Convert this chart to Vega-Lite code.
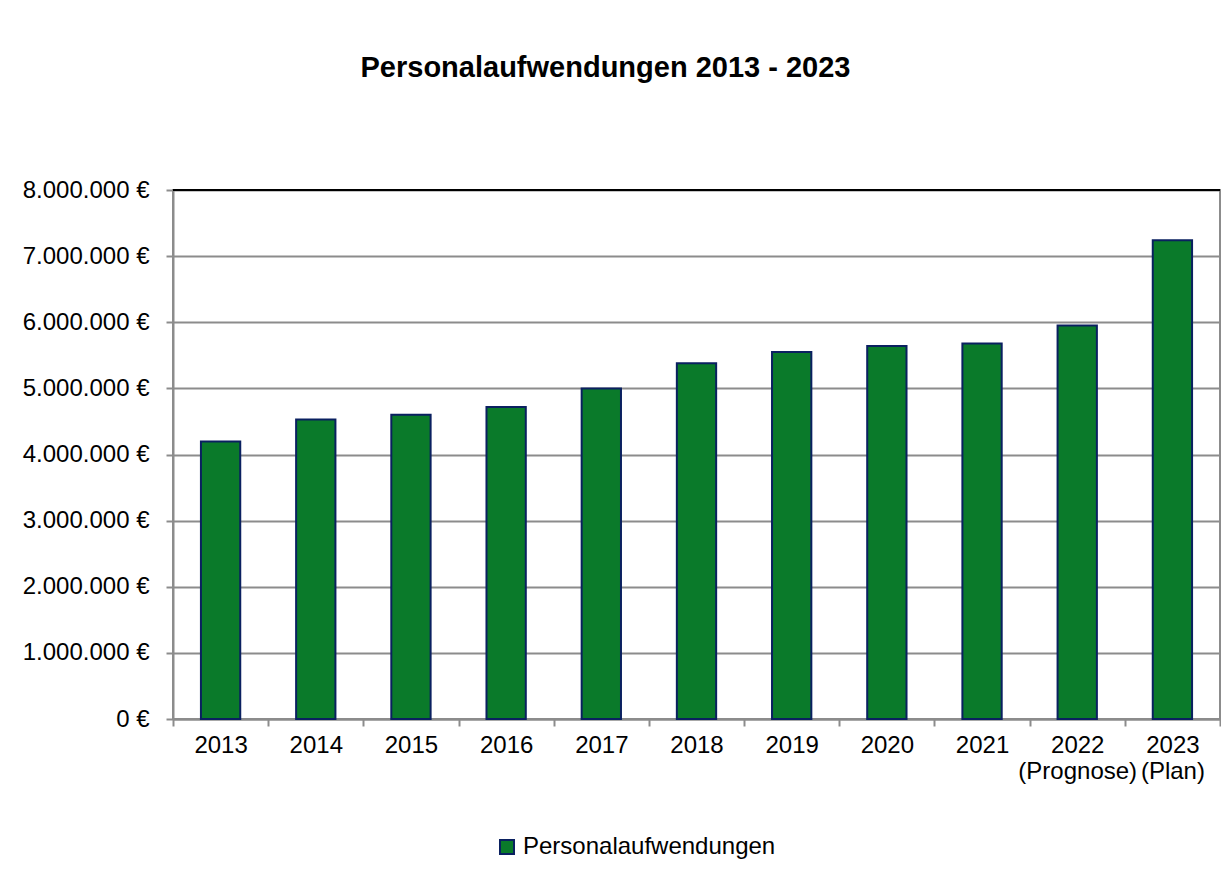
{
  "$schema": "https://vega.github.io/schema/vega-lite/v6.json",
  "width": 1047,
  "height": 529,
  "autosize": "none",
  "padding": {"left": 173, "top": 190, "right": 1, "bottom": 176},
  "background": "white",
  "title": {
    "text": "Personalaufwendungen 2013 - 2023",
    "font": "Liberation Sans",
    "fontSize": 29,
    "fontWeight": "bold",
    "color": "#000000",
    "anchor": "middle",
    "frame": "group",
    "dx": -91,
    "baseline": "alphabetic",
    "offset": 72
  },
  "config": {
    "font": "Liberation Sans",
    "locale": {"number": {"decimal": ",", "thousands": ".", "grouping": [3], "currency": ["", " €"]}},
    "view": {"stroke": "#8c8c8c", "strokeWidth": 2}
  },
  "data": {
    "values": [
      {"jahr": "2013", "wert": 4195000, "reihe": "Personalaufwendungen"},
      {"jahr": "2014", "wert": 4530000, "reihe": "Personalaufwendungen"},
      {"jahr": "2015", "wert": 4600000, "reihe": "Personalaufwendungen"},
      {"jahr": "2016", "wert": 4720000, "reihe": "Personalaufwendungen"},
      {"jahr": "2017", "wert": 5000000, "reihe": "Personalaufwendungen"},
      {"jahr": "2018", "wert": 5380000, "reihe": "Personalaufwendungen"},
      {"jahr": "2019", "wert": 5550000, "reihe": "Personalaufwendungen"},
      {"jahr": "2020", "wert": 5640000, "reihe": "Personalaufwendungen"},
      {"jahr": "2021", "wert": 5680000, "reihe": "Personalaufwendungen"},
      {"jahr": "2022 (Prognose)", "wert": 5950000, "reihe": "Personalaufwendungen"},
      {"jahr": "2023 (Plan)", "wert": 7240000, "reihe": "Personalaufwendungen"}
    ]
  },
  "layer": [
    {
      "mark": {"type": "bar", "stroke": "#0a2060", "strokeWidth": 2, "width": {"band": 0.413}},
      "encoding": {
        "x": {
          "field": "jahr",
          "type": "ordinal",
          "sort": null,
          "scale": {"paddingInner": 0, "paddingOuter": 0},
          "axis": {
            "title": null,
            "labelAngle": 0,
            "labelExpr": "isString(datum.value) ? split(datum.value, ' ') : ''",
            "labelFontSize": 24,
            "labelColor": "#000000",
            "labelPadding": 7,
            "labelLineHeight": 26,
            "tickBand": "extent",
            "tickSize": 7,
            "tickColor": "#8c8c8c",
            "tickWidth": 2,
            "domainColor": "#8c8c8c",
            "domainWidth": 2
          }
        },
        "y": {
          "field": "wert",
          "type": "quantitative",
          "scale": {"domain": [0, 8000000], "nice": false},
          "axis": {
            "title": null,
            "values": [0, 1000000, 2000000, 3000000, 4000000, 5000000, 6000000, 7000000, 8000000],
            "format": "$,.0f",
            "labelFontSize": 24,
            "labelColor": "#000000",
            "labelPadding": 17,
            "tickSize": 7,
            "tickColor": "#8c8c8c",
            "tickWidth": 2,
            "domainColor": "#8c8c8c",
            "domainWidth": 2,
            "grid": true,
            "gridColor": "#8c8c8c",
            "gridWidth": 2
          }
        },
        "color": {
          "field": "reihe",
          "type": "nominal",
          "scale": {"range": ["#0a7a2a"]},
          "legend": {
            "title": null,
            "orient": "none",
            "legendX": 322,
            "legendY": 645,
            "padding": 0,
            "symbolType": "square",
            "symbolSize": 196,
            "symbolStrokeColor": "#0a2060",
            "symbolStrokeWidth": 2,
            "symbolOpacity": 1,
            "labelFontSize": 24,
            "labelColor": "#000000",
            "labelOffset": 4,
            "labelLimit": 500,
            "labelFont": "Liberation Sans"
          }
        }
      }
    },
    {
      "mark": {"type": "rule", "color": "#000000", "strokeWidth": 2},
      "encoding": {"y": {"datum": 8000000}}
    }
  ]
}
